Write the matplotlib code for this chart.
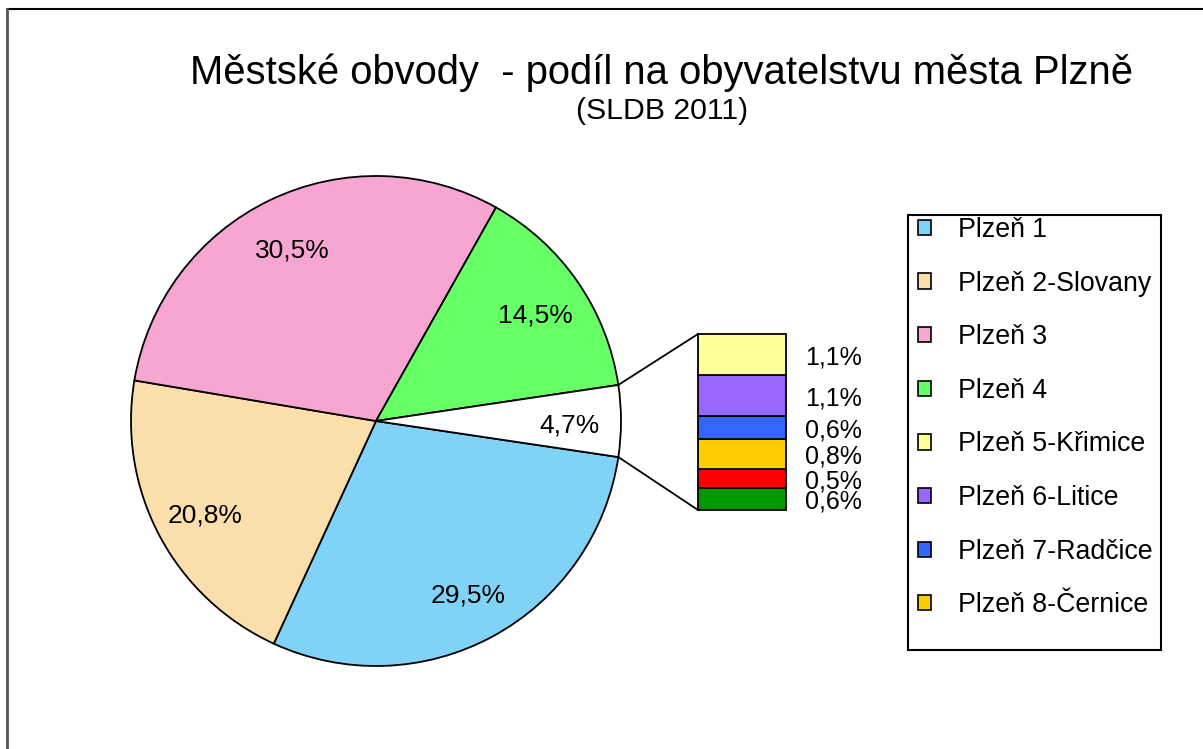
import numpy as np
import matplotlib
matplotlib.use("Agg")
import matplotlib.pyplot as plt
from matplotlib.patches import Patch, Rectangle

plt.rcParams['font.family'] = ['Liberation Sans', 'DejaVu Sans']

# data (podil v %)
main_labels = ["Plzeň 1", "Plzeň 2-Slovany", "Plzeň 3", "Plzeň 4"]
main_values = [29.5, 20.8, 30.5, 14.5]
main_colors = ["#80D3F7", "#FADEAC", "#F6A6D0", "#66FF66"]

small_labels = ["Plzeň 5-Křimice", "Plzeň 6-Litice", "Plzeň 7-Radčice",
                "Plzeň 8-Černice", "Plzeň 9-Malesice", "Plzeň 10-Lhota"]
small_values = [1.1, 1.1, 0.6, 0.8, 0.5, 0.6]
small_colors = ["#FFFF99", "#9966FF", "#3366FF", "#FFCC00", "#FF0000", "#009900"]

other_value = round(sum(small_values), 1)

W, H = 1203, 749
fig = plt.figure(figsize=(W / 100, H / 100), dpi=100)
ax = fig.add_axes([0, 0, 1, 1])

def fmt(p):
    return ("%.1f%%" % p).replace('.', ',')

# hlavni kolac
cx, cy, r = 376, H - 421, 245
half = other_value / 100 * 360 / 2
wedges, texts, autotexts = ax.pie(
    main_values + [other_value],
    colors=main_colors + ["white"],
    startangle=-half, counterclock=False,
    center=(cx, cy), radius=r, frame=True,
    autopct=fmt, pctdistance=0.79,
    wedgeprops=dict(edgecolor="black", linewidth=1.3),
    textprops=dict(fontsize=19, color="black"))
for t in autotexts:
    x, y = t.get_position()
    t.set_position((x, y - 4))
ax.set_xlim(0, W)
ax.set_ylim(0, H)
ax.set_aspect('equal')
ax.axis('off')

# sloupec s malymi obvody
bx, bw = 742, 88
b_bottom, b_top = H - 510, H - 334
scale = (b_top - b_bottom) / other_value
bottoms = b_bottom + scale * np.concatenate([[0], np.cumsum(small_values[::-1])[:-1]])
heights = scale * np.array(small_values[::-1])
ax.bar([bx] * len(small_values), heights, width=bw, bottom=bottoms,
       color=small_colors[::-1], edgecolor="black", linewidth=1.3)
for b, h, v in zip(bottoms, heights, small_values[::-1]):
    ax.text(bx + bw / 2 + 19, b + h / 2 - 3, fmt(v), fontsize=18,
            ha='left', va='center')

# spojovaci cary
for sgn, yb in [(1, b_top), (-1, b_bottom)]:
    a = np.deg2rad(sgn * half)
    ax.plot([cx + r * np.cos(a), bx - bw / 2], [cy + r * np.sin(a), yb],
            color="black", linewidth=1.3)

# legenda
ax.add_patch(Rectangle((908, H - 650), 253, 435, facecolor="white",
                       edgecolor="black", linewidth=1.5, zorder=3))
handles = [Patch(facecolor=c, edgecolor="black", linewidth=1.2)
           for c in main_colors + small_colors[:4]]
leg = ax.legend(handles, main_labels + small_labels[:4],
                loc='upper left', bbox_to_anchor=(918 / W, 1 - 217 / H),
                frameon=False, fontsize=19.3, handlelength=0.5,
                handleheight=0.5, handletextpad=1.0, labelspacing=1.03,
                borderpad=0, borderaxespad=0)
leg.set_zorder(4)

# nadpis
fig.text(661 / W, 1 - 73 / H, "Městské obvody  - podíl na obyvatelstvu města Plzně",
         fontsize=28.8, ha='center', va='center')
fig.text(662 / W, 1 - 111 / H, "(SLDB 2011)", fontsize=21.8,
         ha='center', va='center')

# okraj
ax.plot([7, W], [H - 9, H - 9], color="black", linewidth=1.5)
ax.plot([7, 7], [0, H - 9], color="#555555", linewidth=2)

fig.savefig("out.png", dpi=100)
